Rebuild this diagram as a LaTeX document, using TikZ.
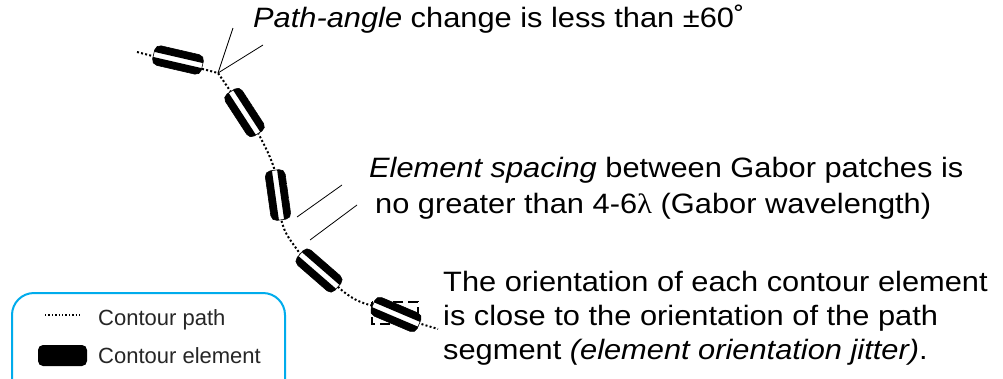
\documentclass[tikz,border=0pt]{standalone}
\usepackage{fontspec}
\setmainfont{Liberation Sans}
\newfontfamily\bigfont[FakeStretch=1.1]{Liberation Sans}
\newfontfamily\lamfont[FakeStretch=1.1]{Liberation Serif}
\definecolor{legendblue}{RGB}{0,172,236}
\newcommand{\gaborel}[3]{%
  \begin{scope}[shift={(#1,#2)}, rotate=#3]
    \fill[white, rounded corners=5.5] (-25,-10) rectangle (25,10);
    \begin{scope}
      \clip[rounded corners=5.5] (-25,-10) rectangle (25,10);
      \fill (-25,2.6) rectangle (25,10);
      \fill (-25,-10) rectangle (25,-2.6);
    \end{scope}
    \draw[line width=0.6, rounded corners=5.5] (-25,-10) rectangle (25,10);
  \end{scope}}
\tikzset{
  pathdots/.style={line width=2, dash pattern=on 2 off 2.2},
  legdots/.style={line width=1.3, dash pattern=on 1.4 off 2},
  annot/.style={line width=0.8},
  bigtext/.style={anchor=base west, inner sep=0, font=\bigfont\fontsize{28}{34}\selectfont},
  legtext/.style={anchor=base west, inner sep=0, text=black!85, font=\fontsize{22}{26}\selectfont},
}
\begin{document}
\begin{tikzpicture}[x=1pt, y=-1pt]
\clip (0,0) rectangle (1003,378);
\fill[white] (0,0) rectangle (1003,378);

% path coordinates
\coordinate (p0) at (137,52);
\coordinate (v)  at (218,73);
\coordinate (p2) at (231,92);
\coordinate (p3) at (258,133);
\coordinate (p4) at (275,171);
\coordinate (p5) at (281,219);
\coordinate (p6) at (301,255);
\coordinate (p7) at (337,286);
\coordinate (p8) at (374,306);
\coordinate (p9) at (418,323);
\coordinate (pe) at (438,329);

\draw[pathdots] (p0) -- (v) -- (p2) -- (p3)
  .. controls (266,148) and (271,158) .. (p4) -- (p5)
  .. controls (285,233) .. (p6) -- (p7)
  .. controls (350,298) and (360,303) .. (p8) -- (p9) -- (pe);

% jitter: path-segment orientation box behind element 5
\draw[line width=2.5, dash pattern=on 10 off 5] (372,302) rectangle (418,324);

% contour elements
\gaborel{178}{60}{-13}
\gaborel{244.5}{112.5}{-57}
\gaborel{278}{195}{-82}
\gaborel{319}{270.5}{-41}
\gaborel{396}{314.5}{-23}

% annotation lines
\coordinate (a1) at (233,28);
\coordinate (a2) at (263,45);
\draw[annot] (v) -- (a1);
\draw[annot] (v) -- (a2);
\coordinate (s1a) at (297,217);
\coordinate (s1b) at (342,185);
\coordinate (s2a) at (310,240);
\coordinate (s2b) at (357,205);
\draw[annot] (s1a) -- (s1b);
\draw[annot] (s2a) -- (s2b);

% texts
\node[bigtext] (t1) at (253,27) {\itshape Path-angle\upshape{} change is less than ±60˚};
\node[bigtext] (t2) at (369,177) {\itshape Element spacing\upshape{} between Gabor patches is};
\node[bigtext] (t3) at (375,213) {no greater than 4-6{\lamfont λ} (Gabor wavelength)};
\node[bigtext] (t4) at (443,291) {The orientation of each contour element};
\node[bigtext] (t5) at (443,325) {is close to the orientation of the path};
\node[bigtext] (t6) at (443,359) {segment \itshape(element orientation jitter)\upshape.};

% legend
\draw[legendblue, line width=2, rounded corners=22] (12,293) rectangle (285,420);
\coordinate (l1a) at (45,315);
\coordinate (l1b) at (82,315);
\draw[legdots] (l1a) -- (l1b);
\fill[rounded corners=5] (38,345) rectangle (87,366);
\node[legtext] (lt1) at (98,325) {Contour path};
\node[legtext] (lt2) at (98,363) {Contour element};
\end{tikzpicture}
\end{document}
